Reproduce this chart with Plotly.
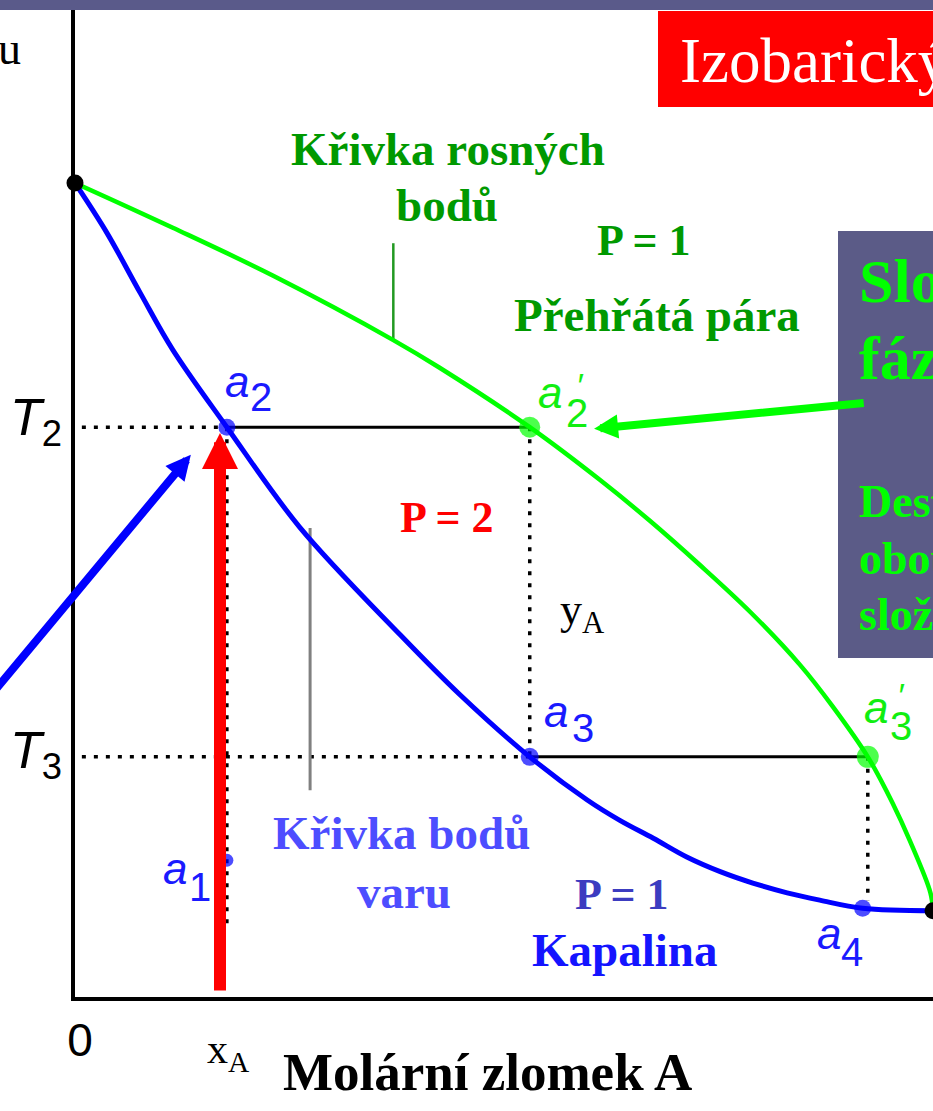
import plotly.graph_objects as go

# ---------------- data (mole fraction of A vs. temperature, arbitrary units) ----------------
# boiling-point (liquid) curve
x_liquid = [0.000, 0.037, 0.076, 0.114, 0.177, 0.262, 0.379, 0.449, 0.530, 0.597, 0.635,
            0.674, 0.713, 0.752, 0.790, 0.830, 0.868, 0.918, 1.000]
T_liquid = [100.0, 93.9, 86.5, 79.5, 70.0, 57.7, 44.5, 37.1, 29.5, 24.2, 21.7,
            19.5, 17.2, 15.4, 14.0, 12.8, 11.9, 10.9, 10.6]
# dew-point (vapour) curve
x_vapour = [0.000, 0.114, 0.231, 0.371, 0.425, 0.530, 0.612, 0.670, 0.728, 0.787, 0.845,
            0.883, 0.924, 0.953, 0.973, 0.997, 1.000]
T_vapour = [100.0, 94.5, 88.6, 80.7, 77.3, 70.0, 63.5, 58.5, 53.1, 47.3, 40.8,
            35.7, 29.5, 23.8, 19.2, 12.8, 10.6]

# pure components (boiling points)
pure_x = [0.0, 1.0]
pure_T = [100.0, 10.6]

# temperature levels
T2 = 70.0
T3 = 29.5

# labelled state points
pt_names = ["a1", "a2", "a2'", "a3", "a3'", "a4"]
pt_x = [0.177, 0.177, 0.530, 0.530, 0.924, 0.918]
pt_T = [16.8, 70.0, 70.0, 29.5, 29.5, 10.9]

# pointer lines to curve labels
ptr_liq_x = [0.274, 0.274]
ptr_liq_T = [25.4, 57.6]
ptr_vap_x = [0.371, 0.371]
ptr_vap_T = [80.7, 92.6]

# arrows: (tail_x, tail_T, tip_x, tip_T)
arrow_heat = (0.169, 0.6, 0.169, 69.3)      # heating of mixture x_A
arrow_blue = (-0.093, 37.7, 0.135, 66.6)
arrow_green = (0.921, 73.0, 0.605, 69.8)

BLUE = "#0000ff"
GREEN = "#00ff00"
SERIF = "Liberation Serif"
SANS = "Liberation Sans"
DOT = "4px,8px"

fig = go.Figure()

# dotted guide lines
dotted = [
    ([0.008, pt_x[1]], [T2, T2]),
    ([0.008, pt_x[3]], [T3, T3]),
    ([pt_x[1], pt_x[1]], [T2, 8.2]),
    ([pt_x[2], pt_x[3]], [T2, T3]),
    ([pt_x[4], pt_x[4]], [T3, 11.8]),
]
for xs, ys in dotted:
    fig.add_trace(go.Scatter(x=xs, y=ys, mode="lines",
                             line=dict(color="black", width=3.5, dash=DOT), hoverinfo="skip"))

# tie lines
fig.add_trace(go.Scatter(x=[pt_x[1], pt_x[2]], y=[T2, T2], mode="lines",
                         line=dict(color="black", width=3), hoverinfo="skip"))
fig.add_trace(go.Scatter(x=[pt_x[3], pt_x[4]], y=[T3, T3], mode="lines",
                         line=dict(color="black", width=3), hoverinfo="skip"))

# pointer lines
fig.add_trace(go.Scatter(x=ptr_liq_x, y=ptr_liq_T, mode="lines",
                         line=dict(color="#808080", width=3), hoverinfo="skip"))
fig.add_trace(go.Scatter(x=ptr_vap_x, y=ptr_vap_T, mode="lines",
                         line=dict(color="#229922", width=2.5), hoverinfo="skip"))

# curves
fig.add_trace(go.Scatter(x=x_vapour, y=T_vapour, mode="lines",
                         line=dict(color=GREEN, width=4.5, shape="spline", smoothing=1.0),
                         name="Křivka rosných bodů"))
fig.add_trace(go.Scatter(x=x_liquid, y=T_liquid, mode="lines",
                         line=dict(color=BLUE, width=5, shape="spline", smoothing=1.0),
                         name="Křivka bodů varu"))

# points
pt_colors = [BLUE, BLUE, GREEN, BLUE, GREEN, BLUE]
pt_sizes = [13, 17, 21, 18, 22, 17]
fig.add_trace(go.Scatter(x=pt_x, y=pt_T, mode="markers", text=pt_names,
                         marker=dict(color=pt_colors, size=pt_sizes, line=dict(width=0)),
                         cliponaxis=False))
fig.add_trace(go.Scatter(x=pure_x, y=pure_T, mode="markers",
                         marker=dict(color="black", size=17), cliponaxis=False))


def PX(p):
    return (p - 75) / 858


def PY(p):
    return (997 - p) / 987


anns = []


def label(text, px, py, size, color, family=SERIF, bold=False, xanchor="center", italic=False):
    t = f"<i>{text}</i>" if italic else text
    anns.append(dict(text=t, x=PX(px), y=PY(py), xref="paper", yref="paper",
                     xanchor=xanchor, yanchor="middle", showarrow=False,
                     font=dict(family=family, size=size, color=color,
                               weight="bold" if bold else "normal")))


def arrow(a, color, width, size):
    tx, tT, hx, hT = a
    anns.append(dict(x=hx, y=hT, ax=tx, ay=tT, xref="x", yref="y", axref="x", ayref="y",
                     text="", showarrow=True, arrowhead=2, arrowsize=size,
                     arrowwidth=width, arrowcolor=color, standoff=0, startstandoff=0))


arrow(arrow_blue, BLUE, 8, 0.62)
arrow(arrow_green, GREEN, 8, 0.6)
arrow(arrow_heat, "#ff0000", 12, 0.6)

# curve / region labels
DG = "#009900"
label("Křivka rosných", 448, 149, 47, DG, bold=True)
label("bodů", 447, 205, 47, DG, bold=True)
label("P = 1", 644, 240, 44, DG, bold=True)
label("Přehřátá pára", 657, 315, 47, DG, bold=True)
label("P = 2", 447, 517, 44, "#ff0000", bold=True)
label("y<sub>A</sub>", 582, 612, 44, "black")
label("Křivka bodů", 401, 833, 47, "#4d4dff", bold=True)
label("varu", 404, 892, 47, "#4d4dff", bold=True)
label("P = 1", 622, 894, 44, "#3c3cc0", bold=True)
label("Kapalina", 624, 950, 47, "#1414ff", bold=True)

# axis texts
label("Molární zlomek A", 487, 1072, 53, "black", bold=True)
label("x<sub>A</sub>", 228, 1052, 42, "black")
label("1", 946, 1041, 46, "black", family=SANS)
label("u", 23, 49, 46, "black", xanchor="right")
label("<i>T</i><sub>2</sub>", 36, 421, 52, "black", family=SANS)
label("<i>T</i><sub>3</sub>", 36, 754, 52, "black", family=SANS)

# point labels
LB = "#1a1aff"
LG = "#11ee11"
label("a", 237, 381, 44, LB, family=SANS, italic=True)
label("2", 261, 397, 40, LB, family=SANS)
label("a", 550, 392, 44, LG, family=SANS, italic=True)
label("′", 580, 385, 34, LG, family=SANS, italic=True)
label("2", 577, 413, 40, LG, family=SANS)
label("a", 556, 711, 44, LB, family=SANS, italic=True)
label("3", 583, 728, 40, LB, family=SANS)
label("a", 876, 707, 44, LG, family=SANS, italic=True)
label("′", 901, 695, 34, LG, family=SANS, italic=True)
label("3", 901, 726, 40, LG, family=SANS)
label("a", 175, 868, 44, LB, family=SANS, italic=True)
label("1", 200, 887, 40, LB, family=SANS)
label("a", 829, 933, 44, LB, family=SANS, italic=True)
label("4", 852, 952, 40, LB, family=SANS)

# title box and side box texts
label("Izobarický diagram", 678, 61, 63, "white", xanchor="left")
label("Složení", 857, 281, 62, GREEN, bold=True, xanchor="left")
label("fází", 857, 358, 62, GREEN, bold=True, xanchor="left")
label("Destilace", 857, 502, 46, GREEN, bold=True, xanchor="left")
label("obou", 857, 558, 46, GREEN, bold=True, xanchor="left")
label("složek", 857, 614, 46, GREEN, bold=True, xanchor="left")

shapes = [
    dict(type="rect", xref="paper", yref="paper", x0=-0.1, x1=1.05, y0=PY(10), y1=PY(-5),
         fillcolor="#5a5a8a", line=dict(width=0), layer="above"),
    dict(type="rect", xref="paper", yref="paper", x0=PX(658), x1=1.05, y0=PY(107), y1=PY(11),
         fillcolor="#ff0000", line=dict(width=0), layer="below"),
    dict(type="rect", xref="paper", yref="paper", x0=PX(838), x1=1.05, y0=PY(658), y1=PY(231),
         fillcolor="#5b5b87", line=dict(width=0), layer="below"),
]

fig.update_layout(
    width=933, height=1111,
    margin=dict(l=75, r=0, t=10, b=114),
    paper_bgcolor="white", plot_bgcolor="rgba(0,0,0,0)",
    showlegend=False,
    xaxis=dict(range=[0, 1], showgrid=False, zeroline=False, showline=True,
               linecolor="black", linewidth=4, ticks="", tickvals=[0], ticktext=["0"],
               tickfont=dict(family=SANS, size=46, color="black"), ticklabelstandoff=0,
               ticklabelshift=5),
    yaxis=dict(range=[0, 121.25], showgrid=False, zeroline=False, showline=True,
               linecolor="black", linewidth=4, ticks="", showticklabels=False),
    annotations=anns,
    shapes=shapes,
)

fig.write_html("out.html", config={"displayModeBar": False},
               post_script="document.body.style.margin='0';document.body.style.overflow='hidden';")
